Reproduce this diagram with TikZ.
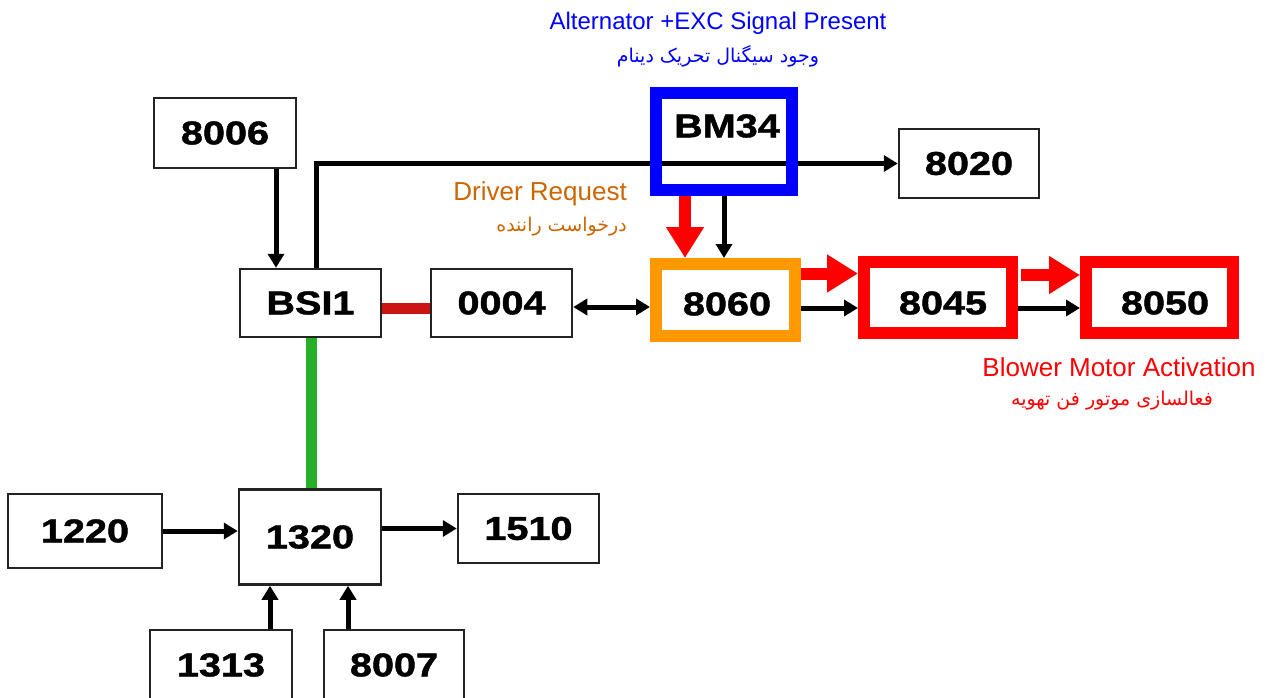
\documentclass[tikz,border=0pt]{standalone}
\usepackage{fontspec}
\setmainfont{Liberation Sans}
\newfontfamily\hvy[BoldFeatures={FakeBold=1.2}]{Liberation Sans}
\newfontfamily\fa[Script=Arabic]{DejaVu Sans}
\TeXXeTstate=1
\usetikzlibrary{arrows.meta}
\definecolor{orbox}{RGB}{255,153,0}
\definecolor{ortext}{RGB}{204,102,0}
\definecolor{bluec}{RGB}{0,0,255}
\definecolor{redc}{RGB}{255,0,0}
\definecolor{greenc}{RGB}{40,175,40}
\definecolor{darkred}{RGB}{205,20,20}
\definecolor{boxline}{RGB}{35,35,35}
\newcommand\bnum[1]{\scalebox{1.2}[1]{#1}}
\begin{document}
\begin{tikzpicture}[x=1pt,y=-1pt,
  numfont/.style={font=\hvy\fontsize{33}{36}\selectfont\bfseries},
  box/.style={draw=boxline, line width=2.5pt, fill=white, inner sep=0pt, numfont},
  sz/.style 2 args={minimum width=#1pt, minimum height=#2pt},
  hl/.style={line width=12pt, inner sep=0pt},
  lbl/.style={inner sep=0pt, numfont},
  arr/.style={line width=5pt, -{Triangle[length=14pt,width=16pt]}},
  arrb/.style={line width=5pt, {Triangle[length=14pt,width=16pt]}-{Triangle[length=14pt,width=16pt]}},
  fat/.style={line width=12pt, draw=redc, -{Triangle[length=31pt,width=36pt]}},
  txt/.style={inner sep=0pt},
]
\fill[white] (0,0) rectangle (1271,698);
\useasboundingbox (0,0) rectangle (1271,698);
\clip (0,0) rectangle (1271,698);

% plain boxes
\node[box, sz={142}{70}] (n8006) at (225,133) {\bnum{8006}};
\node[box, sz={141}{68}] (nbsi) at (310.5,303) {\bnum{BSI1}};
\node[box, sz={141}{68}] (n0004) at (501.5,303) {\bnum{0004}};
\node[box, sz={140}{69}] (n8020) at (969,163.5) {\bnum{8020}};
\node[box, sz={142}{95}] (n1320) at (310,537) {\bnum{1320}};
\node[box, sz={154}{74}] (n1220) at (85,531) {\bnum{1220}};
\node[box, sz={141}{69}] (n1510) at (528.5,528.5) {\bnum{1510}};
\node[box, sz={142}{70}] (n1313) at (221,665) {\bnum{1313}};
\node[box, sz={140}{70}] (n8007) at (394,665) {\bnum{8007}};

% line passing under the BM34 frame
\draw[arr] (nbsi.north -| 316.5,0) |- (n8020.west);

% highlighted boxes
\node[hl, draw=bluec, sz={136}{97}] (bm34) at (724,141.5) {};
\node[lbl] (tbm34) at (727,126) {\bnum{BM34}};
\node[hl, draw=orbox, fill=white, sz={139}{72}] (n8060) at (725.5,300) {};
\node[lbl] (t8060) at (727,304) {\bnum{8060}};
\node[hl, draw=redc, fill=white, sz={148}{71}] (n8045) at (938,297.5) {};
\node[lbl] (t8045) at (943,303) {\bnum{8045}};
\node[hl, draw=redc, fill=white, sz={147}{71}] (n8050) at (1159.5,297.5) {};
\node[lbl] (t8050) at (1165,303) {\bnum{8050}};

% connectors
\draw[arr] (n8006.south -| 276,0) -- (nbsi.north -| 276,0);
\draw[darkred, line width=11pt] (nbsi.east |- 0,308.5) -- (n0004.west |- 0,308.5);
\draw[greenc, line width=11pt] (nbsi.south -| 311.5,0) -- (n1320.north -| 311.5,0);
\draw[arr] (bm34.south -| 724,0) -- (n8060.north -| 724,0);
\draw[fat] (bm34.south -| 685,0) -- (n8060.north -| 685,0);
\draw[arrb] (n0004.east |- 0,307) -- (n8060.west |- 0,307);
\draw[arr] (n8060.east |- 0,308) -- (n8045.west |- 0,308);
\draw[arr] (n8045.east |- 0,308) -- (n8050.west |- 0,308);
\draw[fat] (n8060.east |- 0,273.5) -- (n8045.west |- 0,273.5);
\draw[fat] ([xshift=3pt]n8045.east |- 0,275) -- (n8050.west |- 0,275);
\draw[arr] (n1220.east |- 0,531) -- (n1320.west |- 0,531);
\draw[arr] (n1320.east |- 0,528.5) -- (n1510.west |- 0,528.5);
\draw[arr] (n1313.north -| 270,0) -- (n1320.south -| 270,0);
\draw[arr] (n8007.north -| 348,0) -- (n1320.south -| 348,0);

% texts
\node[txt, font=\fontsize{24}{28}\selectfont, text=bluec] (talt) at (718,23) {Alternator +EXC Signal Present};
\node[txt, font=\fa\fontsize{19}{22}\selectfont, text=bluec] (taltfa) at (718,56) {\beginR وجود سیگنال تحریک دینام\endR};
\node[txt, anchor=east, font=\fontsize{26}{30}\selectfont, text=ortext] (tdrv) at (627,194) {Driver Request};
\node[txt, anchor=east, font=\fa\fontsize{19}{22}\selectfont, text=ortext] (tdrvfa) at (627,227) {\beginR درخواست راننده\endR};
\node[txt, font=\fontsize{26}{30}\selectfont, text=redc] (tblw) at (1119,367) {Blower Motor Activation};
\node[txt, font=\fa\fontsize{19}{22}\selectfont, text=redc] (tblwfa) at (1112,401) {\beginR فعالسازی موتور فن تهویه\endR};
\end{tikzpicture}
\end{document}
